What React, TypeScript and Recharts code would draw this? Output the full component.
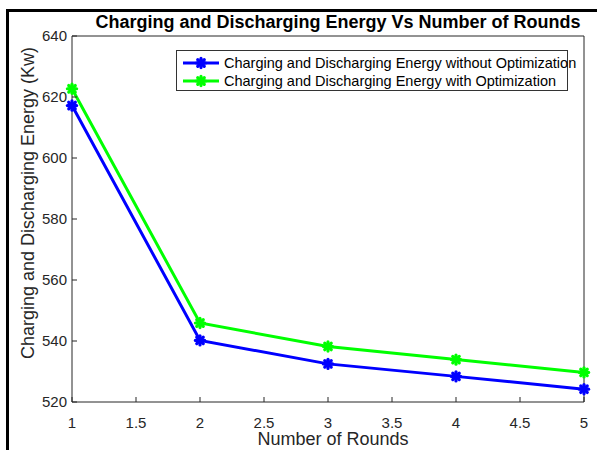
import React from 'react';
import { LineChart, Line, XAxis, YAxis, Legend, Label } from 'recharts';

const rounds = [1, 2, 3, 4, 5];
const energyWithout = [617.2, 540.2, 532.5, 528.4, 524.2];
const energyWith = [622.7, 545.9, 538.2, 533.9, 529.7];
const xTicks = [1, 1.5, 2, 2.5, 3, 3.5, 4, 4.5, 5];
const yTicks = [520, 540, 560, 580, 600, 620, 640];
const seriesNames = [
  'Charging and Discharging Energy without Optimization',
  'Charging and Discharging Energy with Optimization',
];
const seriesColors = ['#0000ff', '#00ff00'];
const titleText = 'Charging and Discharging Energy Vs Number of Rounds';
const xLabelText = 'Number of Rounds';
const yLabelText = 'Charging and Discharging Energy (Kw)';

const data = rounds.map((r, i) => ({ round: r, without: energyWithout[i], with: energyWith[i] }));

const FONT = '"Liberation Sans", Arial, sans-serif';
const AX = '#262626';

const Asterisk = (props: any) => {
  const { cx, cy, color } = props;
  if (cx == null || cy == null) return null;
  const r = 4.6;
  const d = r * 0.7071;
  return (
    <g stroke={color} strokeWidth={3.2} strokeLinecap="round" fill="none">
      <line x1={cx - r} y1={cy} x2={cx + r} y2={cy} />
      <line x1={cx} y1={cy - r} x2={cx} y2={cy + r} />
      <line x1={cx - d} y1={cy - d} x2={cx + d} y2={cy + d} />
      <line x1={cx - d} y1={cy + d} x2={cx + d} y2={cy - d} />
    </g>
  );
};

const LegendBox = () => (
  <div
    style={{
      border: '1px solid #333',
      background: '#fff',
      width: 392,
      height: 41,
      boxSizing: 'border-box',
      fontFamily: FONT,
      fontSize: 14.5,
      color: '#000',
      position: 'relative',
    }}
  >
    {seriesNames.map((name, i) => (
      <div
        key={name}
        style={{
          position: 'absolute',
          left: 5,
          top: 3 + i * 18,
          height: 18,
          display: 'flex',
          alignItems: 'center',
          whiteSpace: 'nowrap',
        }}
      >
        <svg width={38} height={18} style={{ display: 'block' }}>
          <line x1={1} y1={9} x2={37} y2={9} stroke={seriesColors[i]} strokeWidth={3} />
          <Asterisk cx={19} cy={9} color={seriesColors[i]} />
        </svg>
        <span style={{ marginLeft: 4 }}>{name}</span>
      </div>
    ))}
  </div>
);

export default function App() {
  return (
    <div style={{ position: 'absolute', left: 0, top: 0, width: 597, height: 450, background: '#fff', fontFamily: FONT }}>
      <div style={{ position: 'absolute', left: 6, top: 9, width: 591, height: 3, background: '#000' }} />
      <div style={{ position: 'absolute', left: 6, top: 9, width: 3, height: 441, background: '#000' }} />
      <LineChart
        width={597}
        height={450}
        data={data}
        margin={{ top: 35, right: 12, bottom: 0, left: 0 }}
        style={{ fontFamily: FONT }}
      >
        <XAxis
          xAxisId="b"
          dataKey="round"
          type="number"
          domain={[1, 5]}
          ticks={xTicks}
          interval={0}
          height={48}
          tickSize={-5}
          tickMargin={20}
          stroke={AX}
          tick={{ fill: AX, fontSize: 15 }}
        >
          <Label
            content={(p: any) => {
              const vb = p.viewBox;
              return (
                <text x={vb.x + vb.width / 2 + 5} y={vb.y + 43} textAnchor="middle" fontSize={18} fill={AX} fontFamily={FONT}>
                  {xLabelText}
                </text>
              );
            }}
          />
        </XAxis>
        <XAxis
          xAxisId="t"
          orientation="top"
          type="number"
          domain={[1, 5]}
          ticks={xTicks}
          interval={0}
          height={1}
          tickSize={-5}
          tick={false}
          stroke={AX}
        >
          <Label
            content={(p: any) => {
              const vb = p.viewBox;
              return (
                <text x={vb.x + vb.width / 2 + 10} y={vb.y - 7} textAnchor="middle" fontSize={18} fontWeight="bold" fill="#000" fontFamily={FONT}>
                  {titleText}
                </text>
              );
            }}
          />
        </XAxis>
        <YAxis
          yAxisId="l"
          type="number"
          domain={[520, 640]}
          ticks={yTicks}
          interval={0}
          width={72}
          tickSize={-5}
          tickMargin={10}
          stroke={AX}
          tick={{ fill: AX, fontSize: 15 }}
        >
          <Label
            content={(p: any) => {
              const vb = p.viewBox;
              const cx = vb.x + 28;
              const cy = vb.y + vb.height / 2 - 16;
              return (
                <text
                  x={cx}
                  y={cy}
                  textAnchor="middle"
                  dominantBaseline="central"
                  fontSize={18}
                  fill={AX}
                  fontFamily={FONT}
                  transform={`rotate(-90, ${cx}, ${cy})`}
                >
                  {yLabelText}
                </text>
              );
            }}
          />
        </YAxis>
        <YAxis
          yAxisId="r"
          orientation="right"
          type="number"
          domain={[520, 640]}
          ticks={yTicks}
          interval={0}
          width={1}
          tickSize={-5}
          tick={false}
          stroke={AX}
        />
        <Legend
          layout="vertical"
          align="center"
          verticalAlign="middle"
          wrapperStyle={{ position: 'absolute', left: 176, top: 50, width: 392, height: 41 }}
          content={() => <LegendBox />}
        />
        <Line
          xAxisId="b"
          yAxisId="l"
          dataKey="without"
          name={seriesNames[0]}
          stroke={seriesColors[0]}
          strokeWidth={3}
          isAnimationActive={false}
          dot={(p: any) => <Asterisk key={`a${p.index}`} cx={p.cx} cy={p.cy} color={seriesColors[0]} />}
          activeDot={false}
        />
        <Line
          xAxisId="b"
          yAxisId="l"
          dataKey="with"
          name={seriesNames[1]}
          stroke={seriesColors[1]}
          strokeWidth={3}
          isAnimationActive={false}
          dot={(p: any) => <Asterisk key={`b${p.index}`} cx={p.cx} cy={p.cy} color={seriesColors[1]} />}
          activeDot={false}
        />
      </LineChart>
    </div>
  );
}
